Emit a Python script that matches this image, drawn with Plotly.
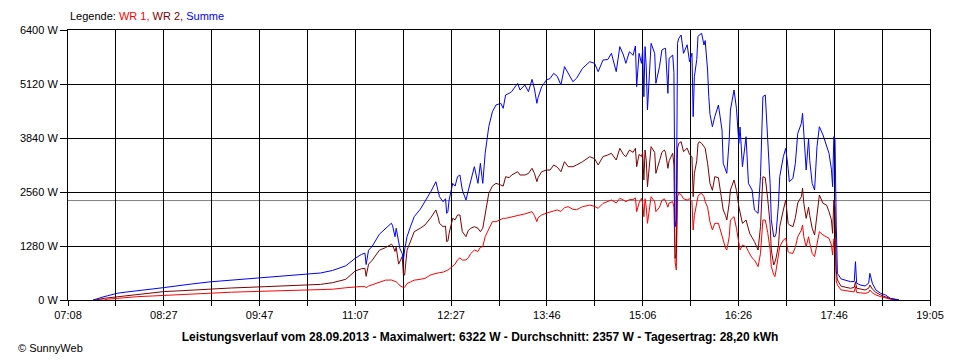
import plotly.graph_objects as go

# ---- data ----
TIMES = [
    "07:29", "07:31", "07:38", "07:41", "07:49", "07:57", "08:06", "08:18", "08:28", "08:39",
    "08:51", "09:06", "09:24", "09:47", "10:09", "10:28", "10:38", "10:48", "10:59", "11:07",
    "11:12", "11:15", "11:16", "11:18", "11:21", "11:27", "11:32", "11:37", "11:38", "11:40",
    "11:41", "11:43", "11:44", "11:46", "11:47", "11:48", "11:50", "11:53", "11:56", "12:01",
    "12:05", "12:10", "12:14", "12:16", "12:17", "12:20", "12:22", "12:23", "12:24", "12:25",
    "12:28", "12:30", "12:32", "12:34", "12:36", "12:39", "12:41", "12:43", "12:46", "12:49",
    "12:51", "12:53", "12:55", "12:58", "13:01", "13:04", "13:08", "13:10", "13:12", "13:15",
    "13:17", "13:22", "13:24", "13:28", "13:31", "13:34", "13:36", "13:38", "13:39", "13:42",
    "13:46", "13:49", "13:52", "13:55", "13:58", "14:01", "14:04", "14:08", "14:11", "14:16",
    "14:22", "14:26", "14:29", "14:33", "14:37", "14:40", "14:44", "14:47", "14:50", "14:52",
    "14:55", "14:58", "15:00", "15:01", "15:03", "15:05", "15:06", "15:07", "15:08", "15:09",
    "15:10", "15:11", "15:13", "15:16", "15:17", "15:20", "15:22", "15:24", "15:25", "15:27",
    "15:28", "15:31", "15:32", "15:33", "15:34", "15:35", "15:36", "15:38", "15:40", "15:43",
    "15:45", "15:47", "15:48", "15:49", "15:51", "15:52", "15:53", "15:55", "15:57", "15:58",
    "16:00", "16:01", "16:02", "16:04", "16:06", "16:09", "16:11", "16:12", "16:13", "16:15",
    "16:16", "16:18", "16:19", "16:22", "16:24", "16:26", "16:27", "16:29", "16:32", "16:34",
    "16:35", "16:37", "16:39", "16:42", "16:44", "16:46", "16:48", "16:50", "16:52", "16:53",
    "16:55", "16:56", "16:57", "16:59", "17:00", "17:03", "17:05", "17:07", "17:08", "17:11",
    "17:13", "17:15", "17:18", "17:19", "17:20", "17:22", "17:24", "17:25", "17:27", "17:29",
    "17:31", "17:33", "17:36", "17:39", "17:41", "17:43", "17:44", "17:45", "17:46", "17:47",
    "17:48", "17:51", "17:55", "17:59", "18:02", "18:03", "18:04", "18:07", "18:11", "18:14",
    "18:15", "18:17", "18:20", "18:24", "18:28", "18:32", "18:39",
]

SUMME = [
    0, 20, 80, 100, 160, 190, 215, 260, 295, 340,
    380, 430, 470, 525, 570, 605, 640, 700, 810, 990,
    1080, 1110, 840, 1180, 1270, 1560, 1700, 1820, 1760, 1500,
    1700, 1400, 1225, 1100, 950, 1185, 1500, 1750, 1975, 2150,
    2330, 2580, 2804, 2600, 2449, 2330, 2400, 2054, 2100, 2370,
    2765, 2700, 2923, 2963, 2607, 2370, 2600, 2765, 3160, 2765,
    3239, 2765, 3477, 4108, 4463, 4622, 4662, 4544, 4859, 4900,
    4938, 5136, 4978, 5096, 4938, 5231, 5000, 4662, 4800, 5057,
    5215, 5250, 5373, 5300, 5096, 5531, 5373, 5175, 5255, 5492,
    5649, 5610, 5412, 5689, 5700, 5847, 5412, 6005, 5807, 5610,
    5886, 5800, 6021, 5057, 5847, 5610, 5926, 4819, 6005, 5500,
    4504, 5000, 6084, 5847, 5136, 5531, 5926, 5960, 5966, 4899,
    5728, 5807, 5400, 1738, 1900, 6084, 6200, 6281, 5847, 6050,
    5649, 5850, 4346, 5294, 5700, 6242, 6280, 6321, 6045, 6150,
    5452, 4819, 4400, 4108, 4346, 4622, 4200, 4030, 3240, 3100,
    3003, 3800, 4504, 4978, 4544, 3714, 4100, 3160, 3871, 2765,
    2700, 2607, 2133, 2054, 2923, 4819, 4859, 3871, 2765, 1900,
    1501, 1500, 1580, 2291, 2923, 3397, 3595, 3121, 2805, 2884,
    3240, 3950, 4188, 4425, 3871, 3081, 3832, 3300, 2765, 2607,
    3634, 4108, 3911, 3634, 3477, 3100, 2686, 3871, 3800, 1800,
    632, 500, 470, 434, 440, 908, 400, 356, 332, 400,
    632, 400, 237, 158, 118, 40, 5,
]

WR2 = [
    0, 0, 40, 50, 80, 110, 140, 175, 200, 215,
    235, 260, 285, 310, 330, 355, 370, 410, 490, 690,
    740, 750, 560, 850, 940, 1180, 1240, 1320, 1300, 1150,
    1250, 850, 900, 1030, 600, 590, 1180, 1400, 1620, 1700,
    1780, 1960, 2133, 1950, 1817, 1738, 1750, 1383, 1400, 1580,
    1936, 1900, 2015, 2015, 1620, 1501, 1650, 1700, 1738, 1700,
    1620, 1700, 2054, 2528, 2700, 2765, 2726, 2700, 2923, 2900,
    2963, 3041, 2963, 2963, 3000, 3121, 3000, 2805, 2900, 3041,
    3081, 3081, 3200, 3150, 3041, 3279, 3160, 3160, 3200, 3279,
    3397, 3350, 3200, 3400, 3437, 3477, 3318, 3595, 3450, 3397,
    3555, 3500, 3595, 3160, 3450, 3400, 3500, 2844, 3555, 3300,
    2686, 3000, 3634, 3500, 3002, 3300, 3500, 3555, 3500, 3121,
    3300, 3477, 3200, 988, 1100, 3600, 3714, 3753, 3516, 3600,
    3450, 3397, 2449, 3000, 3300, 3700, 3753, 3714, 3650, 3600,
    3240, 3000, 2765, 2600, 2923, 2900, 2528, 2400, 2133, 2000,
    1896, 2300, 2607, 2844, 2600, 2212, 2100, 1817, 1896, 1700,
    1580, 1480, 1383, 1185, 1738, 2923, 2900, 2400, 1800, 1185,
    830, 900, 1000, 1300, 1738, 2133, 2370, 1817, 1780, 1738,
    1950, 2300, 2449, 2647, 2300, 1936, 2200, 2000, 1700, 1541,
    2054, 2489, 2291, 2250, 2094, 1900, 1580, 2370, 2200, 700,
    474, 330, 300, 277, 300, 434, 280, 260, 237, 280,
    356, 260, 180, 118, 80, 30, 0,
]

WR1 = [
    0, 0, 0, 20, 40, 60, 80, 95, 110, 120,
    140, 165, 185, 205, 220, 235, 240, 255, 290, 315,
    320, 316, 292, 330, 360, 430, 470, 474, 460, 440,
    430, 380, 340, 310, 292, 300, 390, 430, 470, 490,
    514, 600, 632, 640, 650, 660, 680, 690, 711, 730,
    800, 850, 950, 1000, 948, 948, 1000, 1100, 1185, 1150,
    1250, 1264, 1501, 1700, 1857, 1857, 1900, 1936, 1936, 1960,
    1975, 2000, 2015, 2040, 2060, 2094, 2000, 1857, 1950, 2015,
    2060, 2094, 2110, 2133, 2100, 2190, 2212, 2150, 2140, 2212,
    2250, 2220, 2173, 2290, 2330, 2370, 2300, 2410, 2370, 2330,
    2380, 2380, 2420, 2094, 2300, 2410, 2300, 1975, 2400, 2200,
    1817, 2000, 2449, 2330, 2094, 2200, 2360, 2400, 2350, 2200,
    2300, 2330, 2200, 900, 711, 2450, 2528, 2500, 2400, 2370,
    2400, 2330, 1659, 2000, 2291, 2450, 2500, 2528, 2450, 2330,
    2200, 2054, 1850, 1659, 1817, 1817, 1600, 1501, 1400, 1225,
    1185, 1500, 1896, 1975, 1700, 1350, 1185, 1300, 1264, 1150,
    1106, 1000, 948, 790, 1106, 1896, 1896, 1600, 1200, 790,
    600, 553, 711, 1100, 1264, 1422, 1462, 1146, 1120, 1106,
    1250, 1500, 1659, 1778, 1500, 1264, 1500, 1350, 1106, 1027,
    1343, 1620, 1541, 1500, 1462, 1304, 1067, 1450, 1400, 450,
    356, 240, 220, 198, 190, 316, 180, 170, 158, 180,
    237, 170, 120, 79, 50, 20, 0,
]

AXIS_START = "07:08"
AXIS_END = "19:05"
X_TICK_LABELS = ["07:08", "08:27", "09:47", "11:07", "12:27",
                 "13:46", "15:06", "16:26", "17:46", "19:05"]
Y_TICKS = [0, 1280, 2560, 3840, 5120, 6400]
Y_TICK_LABELS = ["0 W", "1280 W", "2560 W", "3840 W", "5120 W", "6400 W"]
AVERAGE_W = 2357
TITLE = ("Leistungsverlauf vom 28.09.2013 - Maximalwert: 6322 W - "
         "Durchschnitt: 2357 W - Tagesertrag: 28,20 kWh")


def to_minutes(t):
    h, m = t.split(":")
    return int(h) * 60 + int(m)


x = [to_minutes(t) for t in TIMES]
x0, x1 = to_minutes(AXIS_START), to_minutes(AXIS_END)
n_div = 2 * (len(X_TICK_LABELS) - 1)
tickvals = [x0 + (x1 - x0) * i / n_div for i in range(n_div + 1)]
ticktext = [X_TICK_LABELS[i // 2] if i % 2 == 0 else "" for i in range(n_div + 1)]

FONT = "Liberation Sans, Arial, sans-serif"

# the page body has an 8px default margin, so the figure is 8px smaller
W, H = 952, 352

fig = go.Figure()
fig.add_trace(go.Scatter(x=x, y=WR1, mode="lines", name="WR 1",
                         line=dict(color="#ff0000", width=1)))
fig.add_trace(go.Scatter(x=x, y=WR2, mode="lines", name="WR 2",
                         line=dict(color="#800000", width=1)))
fig.add_trace(go.Scatter(x=x, y=SUMME, mode="lines", name="Summe",
                         line=dict(color="#0000ff", width=1)))

fig.add_shape(type="line", xref="paper", x0=0, x1=1, yref="y",
              y0=AVERAGE_W, y1=AVERAGE_W, layer="below",
              line=dict(color="#808080", width=1))

fig.update_layout(
    width=W, height=H,
    margin=dict(l=52, r=30, t=22, b=60, pad=0),
    paper_bgcolor="white", plot_bgcolor="white",
    showlegend=False,
    font=dict(family=FONT, size=11, color="black"),
    title=dict(text="<b>" + TITLE + "</b>", xref="container", yref="container",
               x=472 / W, y=1 - 329 / H, xanchor="center", yanchor="middle",
               font=dict(family=FONT, size=12, color="black")),
)

fig.update_xaxes(range=[x0, x1], tickmode="array", tickvals=tickvals, ticktext=ticktext,
                 ticks="outside", ticklen=5, tickcolor="black", tickwidth=1,
                 showgrid=True, gridcolor="black", gridwidth=1,
                 showline=True, linecolor="black", linewidth=1, mirror=True,
                 zeroline=False, tickfont=dict(family=FONT, size=11, color="black"))
fig.update_yaxes(range=[0, Y_TICKS[-1]], tickmode="array", tickvals=Y_TICKS,
                 ticktext=Y_TICK_LABELS,
                 ticks="outside", ticklen=7, tickcolor="black", tickwidth=1,
                 showgrid=True, gridcolor="black", gridwidth=1,
                 showline=True, linecolor="black", linewidth=1, mirror=True,
                 zeroline=False, tickfont=dict(family=FONT, size=11, color="black"))

fig.add_annotation(xref="paper", yref="paper", x=0, y=1 + 14 / 270,
                   xanchor="left", yanchor="middle", showarrow=False,
                   text=("Legende: <span style='color:#ff0000'>WR 1,</span> "
                         "<span style='color:#800000'>WR 2,</span> "
                         "<span style='color:#0000ff'>Summe</span>"),
                   font=dict(family=FONT, size=11, color="black"))
fig.add_annotation(xref="paper", yref="paper", x=-52 / 870, y=-48 / 270,
                   xanchor="left", yanchor="middle", showarrow=False,
                   text="© SunnyWeb",
                   font=dict(family=FONT, size=11, color="black"))

fig.write_html("out.html")
